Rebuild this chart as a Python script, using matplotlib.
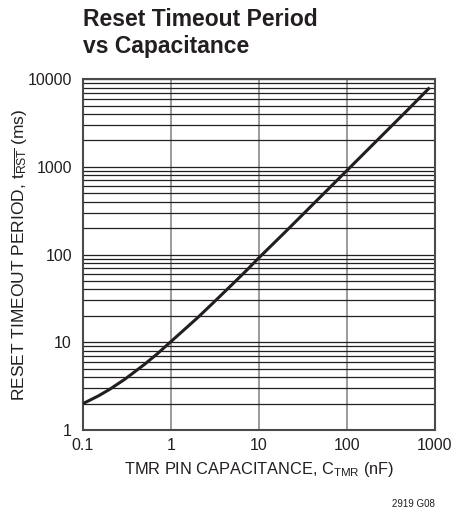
import matplotlib
matplotlib.use("Agg")
import matplotlib.pyplot as plt
from matplotlib.ticker import FixedLocator, NullFormatter, LogLocator

# values
cap_nf = [0.1, 0.15, 0.2, 0.3, 0.5, 0.7, 1, 2, 3, 5, 7, 10, 20, 50, 100, 200, 500, 870]
t_rst_ms = [2.0, 2.45, 2.9, 3.8, 5.6, 7.4, 10.2, 19, 28, 46, 64, 92, 182, 455, 910, 1820, 4550, 8000]

x_ticks = [0.1, 1, 10, 100, 1000]
x_labels = ["0.1", "1", "10", "100", "1000"]
y_ticks = [1, 10, 100, 1000, 10000]
y_labels = ["1", "10", "100", "1000", "10000"]

plt.rcParams["font.family"] = ["Liberation Sans", "DejaVu Sans"]
plt.rcParams["mathtext.fontset"] = "custom"
plt.rcParams["mathtext.rm"] = "Liberation Sans"
plt.rcParams["mathtext.it"] = "Liberation Sans"

fig = plt.figure(figsize=(4.53, 5.13), dpi=100)
ax = fig.add_axes([0.1832, 0.1618, 0.777, 0.684])

ax.plot(cap_nf, t_rst_ms, color="#231f20", lw=2.2, solid_capstyle="butt", zorder=3)

ax.set_xscale("log")
ax.set_yscale("log")
ax.set_xlim(0.1, 1000)
ax.set_ylim(1, 10000)

ax.xaxis.set_major_locator(FixedLocator(x_ticks))
ax.set_xticklabels(x_labels)
ax.xaxis.set_minor_formatter(NullFormatter())
ax.xaxis.set_minor_locator(FixedLocator([]))
ax.yaxis.set_major_locator(FixedLocator(y_ticks))
ax.set_yticklabels(y_labels)
ax.yaxis.set_minor_locator(LogLocator(base=10, subs=range(2, 10)))
ax.yaxis.set_minor_formatter(NullFormatter())

ax.tick_params(which="both", length=0, labelsize=11.5, colors="#231f20")
ax.tick_params(axis="x", pad=6)
ax.tick_params(axis="y", pad=8)
ax.grid(True, axis="x", which="major", color="#8a8a8a", lw=1.2)
ax.grid(True, axis="y", which="both", color="#231f20", lw=0.9)
for s in ax.spines.values():
    s.set_color("#4a4a4a")
    s.set_linewidth(1.5)

ax.set_xlabel(r"TMR PIN CAPACITANCE, C$_{\mathrm{TMR}}$ (nF)", fontsize=11.8,
              color="#231f20", labelpad=5)
ax.set_ylabel(r"RESET TIMEOUT PERIOD, t$_{\overline{\mathrm{RST}}}$ (ms)", fontsize=12.5,
              color="#231f20", labelpad=-1)

fig.text(0.1832, 0.984, "Reset Timeout Period\nvs Capacitance", fontsize=16.5,
         fontweight="bold", color="#231f20", va="top", ha="left",
         linespacing=1.22)
fig.text(0.96, 0.012, "2919 G08", fontsize=7, color="#231f20", ha="right")

fig.savefig("out.png", dpi=100)
